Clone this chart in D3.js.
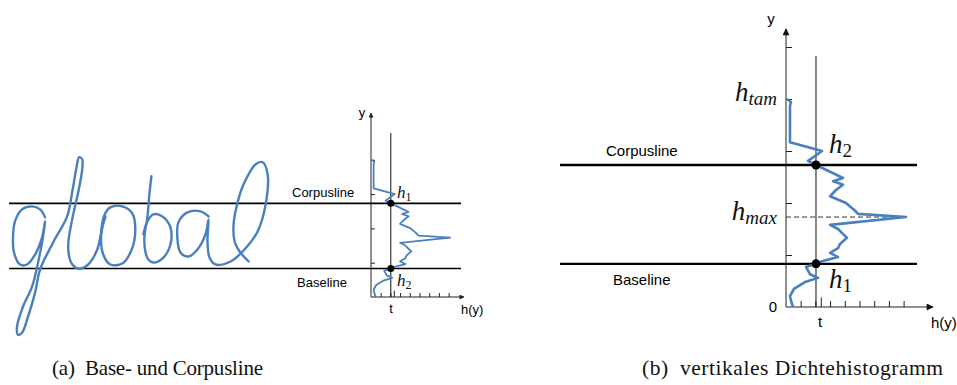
<!DOCTYPE html>
<html>
<head>
<meta charset="utf-8">
<script src="https://cdn.jsdelivr.net/npm/d3@7"></script>
<style>
  body { margin: 0; background: #fff; }
  svg { display: block; }
  .sans { font-family: "Liberation Sans", Arial, sans-serif; fill: #000; }
  .math { font-family: "Liberation Serif", "Times New Roman", serif; font-style: italic; fill: #111; }
  .cap { font-family: "Liberation Serif", "Times New Roman", serif; fill: #111; }
</style>
</head>
<body>
<div id="chart"></div>
<script>
// vertical density histogram: row position y (bottom = 0) and density h(y)
var histY = [4.0, 3.94, 3.87, 3.17, 3.0, 2.81, 2.73, 2.62, 2.48, 2.42, 2.35, 2.25, 2.13, 2.0, 1.92, 1.87, 1.79, 1.73,
             1.58, 1.5, 1.33, 1.21, 1.13, 1.04, 0.96, 0.88, 0.83, 0.77, 0.63, 0.56, 0.48, 0.35, 0.21, 0.12, 0];
var histH = [0.07, 0.34, 0.27, 0.27, 2.45, 1.5, 2.04, 2.86, 3.88, 3.2, 3.88, 3.4, 3.0, 4.08, 4.42, 4.63, 4.9, 8.16,
             3.0, 3.54, 4.15, 3.67, 3.54, 3.0, 3.54, 2.45, 2.04, 1.36, 1.63, 2.18, 1.29, 0.54, 0.27, 0.34, 0.48];

// guide values, same units as the histogram
var corpusY = 2.73, baseY = 0.83, hmaxY = 1.73, htamY = 4.0, tValue = 2.04, tTick = 2.4;
var xTicks = [1, 2, 3, 4, 5, 6, 7, 8];
var yTicksA = [1, 2, 3, 4];
var yTicksB = [1, 2, 3, 4, 5];

// handwritten "global", one array per pen stroke
// units: tenths of the corpus height, v = 0 on the baseline, u = 0 at the left end of the lines
var strokeGL = [[5.54,7.85],[4.77,9.08],[3.54,9.54],[2.0,9.08],[0.92,7.23],[0.62,4.92],[0.77,2.46],[1.69,0.62],
  [2.77,0.62],[4.0,2.15],[5.08,4.77],[5.54,7.23],[5.23,4.92],[4.46,0.92],[3.54,-2.77],[2.15,-5.85],[1.23,-8.92],
  [1.38,-10.15],[2.0,-9.85],[2.92,-7.38],[4.0,-3.69],[4.77,-0.15],[6.77,4.0],[8.92,8.0],[9.69,11.69],[10.31,15.23],
  [10.77,17.08],[11.23,16.77],[11.23,15.23],[10.62,11.69],[9.69,7.54],[9.08,3.38],[9.54,0.92],[10.62,0],
  [12.15,0.62],[13.54,2.92],[14.0,4.77],[14.46,7.23],[14.77,8.0]];
var strokeO = [[14.77,7.85],[14.15,5.23],[14.46,2.15],[15.54,0.62],[17.38,0.77],[18.77,2.77],[19.38,5.85],
  [18.92,8.46],[17.38,9.54],[15.54,9.38],[14.62,8.15],[14.15,5.69]];
var strokeB = [[21.85,14.15],[21.54,11.38],[21.23,7.85],[20.77,4.77],[20.92,2.62],[21.38,1.38],[22.15,0.92],
  [23.69,1.69],[24.77,3.69],[24.77,6.31],[23.54,8.0],[22.15,8.31],[21.23,7.23],[20.62,5.23]];
var strokeAL = [[30.62,8.0],[29.38,8.77],[27.38,8.62],[26.0,7.08],[25.85,4.46],[26.31,2.46],[27.54,1.85],
  [28.92,2.92],[30.15,5.23],[30.62,7.54],[30.46,4.15],[30.77,1.69],[31.69,0.62],[34.0,1.08],[35.85,2.62],
  [38.15,5.69],[39.38,9.85],[39.69,14.46],[38.92,16.31],[37.85,16.0],[36.0,12.92],[35.08,10.15],[34.46,6.77],
  [34.62,4.15],[35.38,2.62],[36.77,1.08]];

var blue = "#4a7fbf";
var W = 957, H = 385;

var svg = d3.select("#chart").append("svg")
    .attr("width", W)
    .attr("height", H);

var defs = svg.append("defs");
defs.append("marker").attr("id", "arrowA")
    .attr("viewBox", "0 0 10 10").attr("refX", 9).attr("refY", 5)
    .attr("markerWidth", 7).attr("markerHeight", 5).attr("markerUnits", "userSpaceOnUse")
    .attr("orient", "auto")
  .append("path").attr("d", "M0,0L10,5L0,10z").attr("fill", "#222");
defs.append("marker").attr("id", "arrowB")
    .attr("viewBox", "0 0 10 10").attr("refX", 9).attr("refY", 5)
    .attr("markerWidth", 10).attr("markerHeight", 7).attr("markerUnits", "userSpaceOnUse")
    .attr("orient", "auto")
  .append("path").attr("d", "M0,0L10,5L0,10z").attr("fill", "#111");

// draws one histogram panel with its guide lines
function drawPanel(p) {
    var x = d3.scaleLinear().domain([0, 10]).range([p.ox, p.ox + 10 * p.ux]);
    var y = d3.scaleLinear().domain([0, 5]).range([p.oy, p.oy - 5 * p.uy]);
    var g = svg.append("g");

    // horizontal lines
    [corpusY, baseY].forEach(function(v) {
        g.append("line")
            .attr("x1", p.lineFrom).attr("x2", p.lineTo)
            .attr("y1", y(v)).attr("y2", y(v))
            .attr("stroke", "#000").attr("stroke-width", p.lineW);
    });

    // y axis ticks (pointing right) and x axis ticks (pointing up)
    var ya = g.append("g").attr("transform", "translate(" + p.ox + ",0)")
        .call(d3.axisRight(y).tickValues(p.yTicks).tickSize(p.tick).tickFormat(""));
    var xa = g.append("g").attr("transform", "translate(0," + p.oy + ")")
        .call(d3.axisTop(x).tickValues(xTicks).tickSize(p.tick).tickFormat(""));
    [ya, xa].forEach(function(a) {
        a.select(".domain").remove();
        a.selectAll("line").attr("stroke", "#222");
    });
    g.append("line")
        .attr("x1", x(tTick)).attr("x2", x(tTick))
        .attr("y1", p.oy).attr("y2", p.oy - p.tick * 1.6)
        .attr("stroke", "#222");

    // axes with arrows
    g.append("line")
        .attr("x1", p.ox).attr("x2", p.ox).attr("y1", p.oy).attr("y2", p.yTop)
        .attr("stroke", "#222").attr("stroke-width", 1).attr("marker-end", "url(#" + p.arrow + ")");
    g.append("line")
        .attr("x1", p.ox).attr("x2", p.xEnd).attr("y1", p.oy).attr("y2", p.oy)
        .attr("stroke", "#222").attr("stroke-width", 1).attr("marker-end", "url(#" + p.arrow + ")");

    // threshold t
    g.append("line")
        .attr("x1", x(tValue)).attr("x2", x(tValue)).attr("y1", p.oy).attr("y2", p.tTop)
        .attr("stroke", "#111").attr("stroke-width", 1);

    if (p.dashed) {
        g.append("line")
            .attr("x1", p.ox).attr("x2", x(d3.max(histH)))
            .attr("y1", y(hmaxY)).attr("y2", y(hmaxY))
            .attr("stroke", "#333").attr("stroke-width", 1)
            .attr("stroke-dasharray", "5,3");
    }

    // the histogram
    var line = d3.line()
        .x(function(d, i) { return x(histH[i]); })
        .y(function(d) { return y(d); });
    g.append("path")
        .datum(histY)
        .attr("d", line)
        .attr("fill", "none")
        .attr("stroke", blue)
        .attr("stroke-width", p.histW)
        .attr("stroke-linejoin", "round");

    // intersection dots
    g.selectAll("circle.dot")
        .data([corpusY, baseY])
        .enter()
        .append("circle")
        .attr("cx", x(tValue))
        .attr("cy", function(d) { return y(d); })
        .attr("r", p.dotR)
        .attr("fill", "#000");

    return { x: x, y: y, g: g };
}

var A = drawPanel({ ox: 371, oy: 297, ux: 9.7, uy: 34.3, xEnd: 464, yTop: 113, tTop: 133,
    lineFrom: 9, lineTo: 461, lineW: 1.6, histW: 1.8, dotR: 3.5, tick: 4, arrow: "arrowA",
    yTicks: yTicksA, dashed: false });
var B = drawPanel({ ox: 786, oy: 307, ux: 14.7, uy: 52, xEnd: 933, yTop: 29, tTop: 56,
    lineFrom: 560, lineTo: 917, lineW: 2.4, histW: 2.6, dotR: 4.5, tick: 6, arrow: "arrowB",
    yTicks: yTicksB, dashed: true });

// handwriting, scaled so that 10 units span baseline -> corpusline
var wy = d3.scaleLinear().domain([0, 10]).range([A.y(baseY), A.y(corpusY)]);
var wx = d3.scaleLinear().domain([0, 10]).range([9, 9 + (A.y(baseY) - A.y(corpusY))]);
var pen = d3.line()
    .x(function(d) { return wx(d[0]); })
    .y(function(d) { return wy(d[1]); })
    .curve(d3.curveCatmullRom.alpha(0.5));
svg.append("g").selectAll("path")
    .data([strokeGL, strokeO, strokeB, strokeAL])
    .enter()
    .append("path")
    .attr("d", pen)
    .attr("fill", "none")
    .attr("stroke", blue)
    .attr("stroke-width", 2.4)
    .attr("stroke-linecap", "round")
    .attr("stroke-linejoin", "round");

// text helpers
function label(x, y, txt, size, anchor) {
    return svg.append("text").attr("class", "sans")
        .attr("x", x).attr("y", y)
        .attr("font-size", size)
        .attr("text-anchor", anchor || "start")
        .text(txt);
}
function mathLabel(x, y, sub, size, anchor) {
    var t = svg.append("text").attr("class", "math")
        .attr("x", x).attr("y", y)
        .attr("font-size", size)
        .attr("text-anchor", anchor || "start");
    t.append("tspan").text("h");
    var s = t.append("tspan")
        .attr("font-size", Math.round(size * 0.7))
        .attr("dy", size * 0.16)
        .text(sub);
    if (/^[0-9]+$/.test(sub)) s.attr("font-style", "normal");
    return t;
}

// panel (a)
label(292, 197, "Corpusline", 13);
label(297, 287, "Baseline", 13);
label(362, 117, "y", 13, "middle");
label(391, 313, "t", 13, "middle");
label(461, 314, "h(y)", 13);
mathLabel(397, 198, "1", 17);
mathLabel(397, 286, "2", 17);

// panel (b)
label(606, 156, "Corpusline", 15);
label(613, 285, "Baseline", 15);
label(771, 24, "y", 15, "middle");
label(773, 312, "0", 15, "middle");
label(820, 327, "t", 15, "middle");
label(931, 328, "h(y)", 15);
mathLabel(777, 101, "tam", 27, "end");
mathLabel(777, 220, "max", 27, "end");
mathLabel(829, 153, "2", 27);
mathLabel(829, 288, "1", 27);

// captions
svg.append("text").attr("class", "cap")
    .attr("x", 52).attr("y", 375).attr("font-size", 21)
    .attr("textLength", 211).attr("lengthAdjust", "spacing")
    .text("(a)\u2002Base- und Corpusline");
svg.append("text").attr("class", "cap")
    .attr("x", 642).attr("y", 375).attr("font-size", 21.5)
    .attr("textLength", 301).attr("lengthAdjust", "spacing")
    .text("(b)\u2002vertikales Dichtehistogramm");
</script>
</body>
</html>
